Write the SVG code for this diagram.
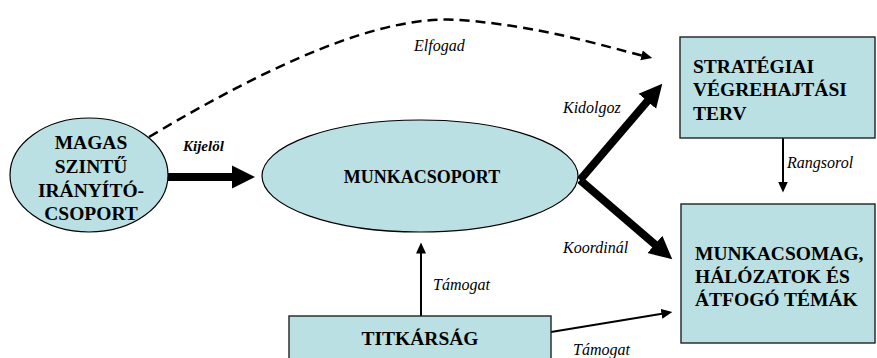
<svg xmlns="http://www.w3.org/2000/svg" width="877" height="358" viewBox="0 0 877 358">
<defs>
<marker id="bigHead" markerUnits="userSpaceOnUse" viewBox="0 -13 26 26" refX="1" refY="0" markerWidth="26" markerHeight="26" orient="auto">
<path d="M0,-11.5 L23,0 L0,11.5 z" fill="#000"/>
</marker>
<marker id="smallHead" markerUnits="userSpaceOnUse" viewBox="0 -6 12 12" refX="0.5" refY="0" markerWidth="12" markerHeight="12" orient="auto">
<path d="M0,-5 L11,0 L0,5 z" fill="#000"/>
</marker>
</defs>
<g id="connectors" stroke="#000" fill="none">
<path stroke-width="2.5" stroke-dasharray="10 6" marker-end="url(#smallHead)" d="M149,137 C270,65 380,14 460,20 S600,45 642,55.5"/>
<g stroke-width="8" marker-end="url(#bigHead)">
<path d="M168,177 L233,177"/>
<path d="M580,180 L648,100.5"/>
<path d="M580,180 L655.6,245"/>
</g>
<g stroke-width="2" marker-end="url(#smallHead)">
<path d="M783,138 L783,182"/>
<path d="M421,316 L421,253"/>
<path d="M551,332 L662,313.8"/>
</g>
</g>
<g id="labels" fill="#000">
<text x="414" y="51" font-family="Times New Roman" font-style="italic" font-size="16">Elfogad</text>
<text x="183" y="151" font-family="Times New Roman" font-style="italic" font-weight="bold" font-size="15">Kijelöl</text>
<text x="563" y="113" font-family="Times New Roman" font-style="italic" font-size="16">Kidolgoz</text>
<text x="563" y="253" font-family="Times New Roman" font-style="italic" font-size="16">Koordinál</text>
<text x="787" y="168" font-family="Times New Roman" font-style="italic" font-size="16">Rangsorol</text>
<text x="433" y="290" font-family="Times New Roman" font-style="italic" font-size="16">Támogat</text>
<text x="573" y="355" font-family="Times New Roman" font-style="italic" font-size="16">Támogat</text>
</g>
<g id="node-magas">
<ellipse cx="89" cy="175" rx="79" ry="57" fill="#bbe0e3" stroke="#000" stroke-width="1.2"/>
<text x="91" y="149" font-family="Times New Roman" font-weight="bold" font-size="19.5" text-anchor="middle">MAGAS</text>
<text x="91" y="173" font-family="Times New Roman" font-weight="bold" font-size="19.5" text-anchor="middle">SZINTŰ</text>
<text x="91" y="197" font-family="Times New Roman" font-weight="bold" font-size="19.5" text-anchor="middle">IRÁNYÍTÓ-</text>
<text x="91" y="220" font-family="Times New Roman" font-weight="bold" font-size="19.5" text-anchor="middle">CSOPORT</text>
</g>
<g id="node-munkacsoport">
<ellipse cx="420" cy="176" rx="158" ry="56" fill="#bbe0e3" stroke="#000" stroke-width="1.2"/>
<text x="422" y="183" font-family="Times New Roman" font-weight="bold" font-size="18" text-anchor="middle">MUNKACSOPORT</text>
</g>
<g id="node-strategiai">
<rect x="680" y="37" width="195" height="101" fill="#bbe0e3" stroke="#222" stroke-width="1.4"/>
<text x="693" y="73" font-family="Times New Roman" font-weight="bold" font-size="19.5">STRATÉGIAI</text>
<text x="693" y="96" font-family="Times New Roman" font-weight="bold" font-size="19.5">VÉGREHAJTÁSI</text>
<text x="693" y="120" font-family="Times New Roman" font-weight="bold" font-size="19.5">TERV</text>
</g>
<g id="node-munkacsomag">
<rect x="681" y="204" width="194" height="139" fill="#bbe0e3" stroke="#222" stroke-width="1.4"/>
<text x="695" y="260" font-family="Times New Roman" font-weight="bold" font-size="19.5">MUNKACSOMAG,</text>
<text x="695" y="283" font-family="Times New Roman" font-weight="bold" font-size="19.5">HÁLÓZATOK ÉS</text>
<text x="695" y="306" font-family="Times New Roman" font-weight="bold" font-size="19.5">ÁTFOGÓ TÉMÁK</text>
</g>
<g id="node-titkarsag">
<rect x="289" y="316" width="262" height="50" fill="#bbe0e3" stroke="#222" stroke-width="1.4"/>
<text x="420" y="345" font-family="Times New Roman" font-weight="bold" font-size="19.5" text-anchor="middle">TITKÁRSÁG</text>
</g>
</svg>
